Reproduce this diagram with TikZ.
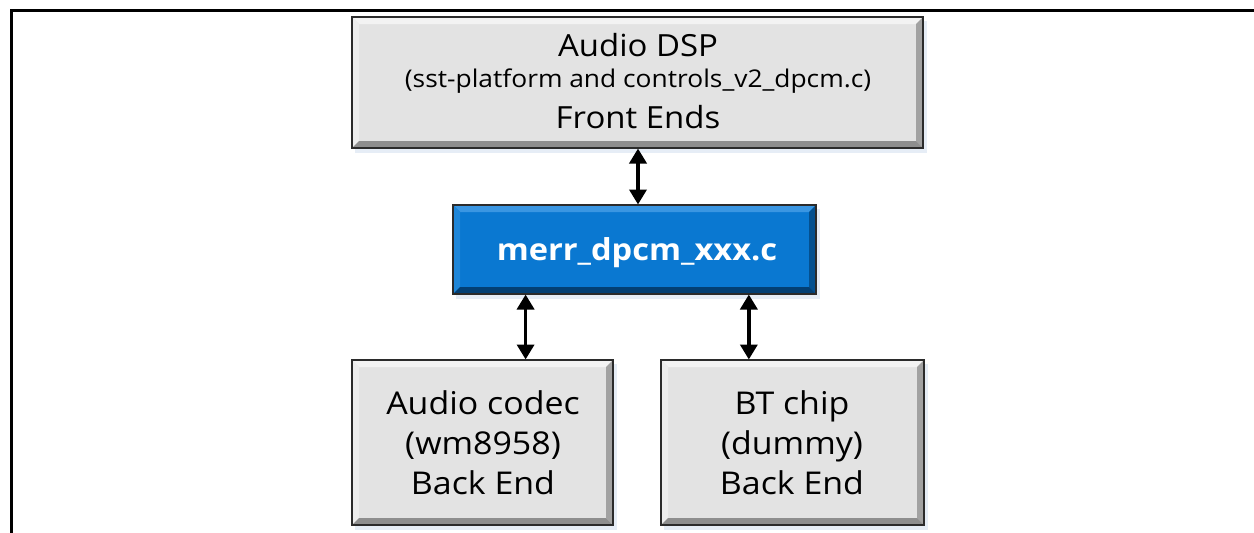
\documentclass[tikz,border=0pt]{standalone}
\usepackage{fontspec}
\setmainfont[FakeStretch=1.08]{Open Sans}
\usetikzlibrary{calc,arrows.meta}

\definecolor{boxface}{HTML}{E3E3E3}
\definecolor{boxlight}{HTML}{F3F3F3}
\definecolor{boxside}{HTML}{EDEDED}
\definecolor{boxdark}{HTML}{A2A2A2}
\definecolor{boxdarker}{HTML}{8E8E8E}
\definecolor{boxedge}{HTML}{2B2B2B}
\definecolor{blueface}{HTML}{0A78D1}
\definecolor{bluelight}{HTML}{3A96E2}
\definecolor{blueside}{HTML}{1F86D8}
\definecolor{bluedark}{HTML}{04508F}
\definecolor{bluedarker}{HTML}{033F73}
\definecolor{glow}{HTML}{E6EDF6}

% raised (bevelled) panel drawn over an already filled rectangular node
% #1 node, #2 top, #3 left, #4 right, #5 bottom, #6 bevel depth
\newcommand\bevelpanel[6]{%
  \fill[#2] (#1.north west) -- (#1.north east) -- ($(#1.north east)+(-#6,#6)$) -- ($(#1.north west)+(#6,#6)$) -- cycle;
  \fill[#3] (#1.north west) -- ($(#1.north west)+(#6,#6)$) -- ($(#1.south west)+(#6,-#6)$) -- (#1.south west) -- cycle;
  \fill[#4] (#1.north east) -- (#1.south east) -- ($(#1.south east)+(-#6,-#6)$) -- ($(#1.north east)+(-#6,#6)$) -- cycle;
  \fill[#5] (#1.south west) -- (#1.south east) -- ($(#1.south east)+(-#6,-#6)$) -- ($(#1.south west)+(#6,-#6)$) -- cycle;
  \draw[boxedge, line width=1.2pt] (#1.north west) rectangle (#1.south east);
}

\tikzset{
  panel/.style={rectangle, inner sep=0pt, outer sep=0pt, minimum width=#1},
  greypanel/.style={panel=#1, fill=boxface},
  bluepanel/.style={panel=#1, fill=blueface},
  bigtext/.style={anchor=base, inner sep=0pt, font=\fontsize{30.5}{36}\selectfont},
  smalltext/.style={anchor=base, inner sep=0pt, font=\fontsize{24.4}{28}\selectfont},
  betext/.style={anchor=base, inner sep=0pt, font=\fontsize{31.4}{36}\selectfont},
  boldtext/.style={anchor=base, inner sep=0pt, text=white, font=\fontsize{30.2}{36}\selectfont\bfseries},
  link/.style={line width=3.6pt, {Triangle[width=17pt,length=15pt]}-{Triangle[width=17pt,length=15pt]}, shorten <=0.5pt, shorten >=0.5pt},
  frameline/.style={line width=3pt, line cap=rect}
}

\begin{document}
\begin{tikzpicture}[x=1pt, y=-1pt]
  \useasboundingbox (0,0) rectangle (1254,533);
  \fill[white] (0,0) rectangle (1254,533);

  % outer frame
  \draw[frameline] (11,533) -- (11,10) -- (1254,10);

  % soft glow under the panels
  \fill[glow] (355,21) rectangle (927,153);
  \fill[glow] (456,209) rectangle (820,299);
  \fill[glow] (355,364) rectangle (617,530);
  \fill[glow] (664,364) rectangle (928,530);

  % panels
  \node[greypanel=571pt, minimum height=131pt] (dsp) at (637.5,82.5) {};
  \bevelpanel{dsp}{boxlight}{boxside}{boxdark}{boxdarker}{7}
  \node[bluepanel=363pt, minimum height=89pt] (merr) at (634.5,249.5) {};
  \bevelpanel{merr}{bluelight}{blueside}{bluedark}{bluedarker}{7}
  \node[greypanel=261pt, minimum height=165pt] (codec) at (482.5,442.5) {};
  \bevelpanel{codec}{boxlight}{boxside}{boxdark}{boxdarker}{7}
  \node[greypanel=263pt, minimum height=165pt] (bt) at (792.5,442.5) {};
  \bevelpanel{bt}{boxlight}{boxside}{boxdark}{boxdarker}{7}

  % panel texts
  \node[bigtext] (dspA) at (638,56) {Audio DSP};
  \node[smalltext] (dspB) at (638,87) {(sst-platform and controls\_v2\_dpcm.c)};
  \node[bigtext] (dspC) at (638,128) {Front Ends};
  \node[boldtext] (merrT) at (637,260) {merr\_dpcm\_xxx.c};
  \node[betext] (codecA) at (483,414) {Audio codec};
  \node[betext] (codecB) at (483,454) {(wm8958)};
  \node[betext] (codecC) at (483,494) {Back End};
  \node[betext] (btA) at (792,414) {BT chip};
  \node[betext] (btB) at (792,454) {(dummy)};
  \node[betext] (btC) at (792,494) {Back End};

  % links
  \coordinate (mTop) at (merr.north -| 638,0);
  \coordinate (mL) at ($(merr.south west)!0.2!(merr.south east)$);
  \coordinate (mR) at ($(merr.south west)!0.815!(merr.south east)$);
  \draw[link] (dsp.south -| mTop) -- (mTop);
  \draw[link] (mL) -- (mL |- codec.north);
  \draw[link] (mR) -- (mR |- bt.north);
\end{tikzpicture}
\end{document}
